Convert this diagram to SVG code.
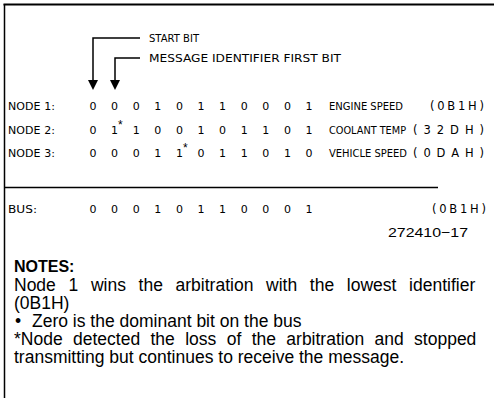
<svg xmlns="http://www.w3.org/2000/svg" width="495" height="398" viewBox="0 0 495 398">
<style>
.cad{font-family:"DejaVu Sans","Liberation Sans",sans-serif;font-size:11px;fill:#000}
.par{font-family:"DejaVu Sans","Liberation Sans",sans-serif;font-size:11.5px;fill:#000}
.bit{font-family:"DejaVu Sans","Liberation Sans",sans-serif;font-size:11px;fill:#000;text-anchor:middle}
.ast{font-family:"Liberation Sans",Arial,sans-serif;font-size:12px;fill:#000}
.note{font-family:"Liberation Sans",Arial,sans-serif;font-size:17.5px;fill:#000}
.ln{stroke:#000;stroke-width:1.5;fill:none}
</style>
<defs>
<marker id="ah" markerUnits="userSpaceOnUse" markerWidth="10" markerHeight="10" viewBox="0 0 10 10" refX="0" refY="5" orient="auto">
<path d="M0,0 L10,5 L0,10 z" fill="#000"/>
</marker>
</defs>
<rect width="495" height="398" fill="#fff"/>
<g id="frame">
<line x1="3.5" y1="4.5" x2="494" y2="4.5" stroke="#000" stroke-width="2"/>
<line x1="4.5" y1="4" x2="4.5" y2="398" stroke="#000" stroke-width="1.5"/>
</g>
<g id="connectors">
<path class="ln" d="M140,38 H93 V80" marker-end="url(#ah)"/>
<path class="ln" d="M140,58 H115 V80" marker-end="url(#ah)"/>
<line class="ln" x1="5" y1="187.5" x2="438" y2="187.5" style="stroke-width:1.3"/>
</g>
<g id="labels">
<text class="cad" x="149" y="42" textLength="50" lengthAdjust="spacingAndGlyphs">START BIT</text>
<text class="cad" x="149" y="62" textLength="192" lengthAdjust="spacingAndGlyphs">MESSAGE IDENTIFIER FIRST BIT</text>
</g>
<g id="node1">
<text class="cad" x="8" y="110" textLength="47" lengthAdjust="spacing">NODE 1:</text>
<text class="bit" x="93 114.6 136.2 157.8 179.4 201 222.6 244.2 265.8 287.4 309" y="110">00010110001</text>
<text class="cad" x="329" y="110" textLength="74" lengthAdjust="spacingAndGlyphs">ENGINE SPEED</text>
<text class="par" x="430" y="110" textLength="54" lengthAdjust="spacing">(0B1H)</text>
</g>
<g id="node2">
<text class="cad" x="8" y="134" textLength="47" lengthAdjust="spacing">NODE 2:</text>
<text class="bit" x="93 114.6 136.2 157.8 179.4 201 222.6 244.2 265.8 287.4 309" y="134">01100101101</text>
<text class="ast" x="118" y="128.5">*</text>
<text class="cad" x="329" y="134" textLength="77" lengthAdjust="spacingAndGlyphs">COOLANT TEMP</text>
<text class="par" x="413" y="134" textLength="71" lengthAdjust="spacing">(32DH)</text>
</g>
<g id="node3">
<text class="cad" x="8" y="157" textLength="47" lengthAdjust="spacing">NODE 3:</text>
<text class="bit" x="93 114.6 136.2 157.8 179.4 201 222.6 244.2 265.8 287.4 309" y="157">00011011010</text>
<text class="ast" x="183" y="151.5">*</text>
<text class="cad" x="329" y="157" textLength="78" lengthAdjust="spacingAndGlyphs">VEHICLE SPEED</text>
<text class="par" x="413" y="157" textLength="71" lengthAdjust="spacing">(0DAH)</text>
</g>
<g id="bus">
<text class="cad" x="8" y="213" textLength="29" lengthAdjust="spacingAndGlyphs">BUS:</text>
<text class="bit" x="93 114.6 136.2 157.8 179.4 201 222.6 244.2 265.8 287.4 309" y="213">00010110001</text>
<text class="par" x="432" y="213" textLength="54" lengthAdjust="spacing">(0B1H)</text>
</g>
<g id="figid">
<text x="388" y="237" style="font-family:'Liberation Sans',Arial,sans-serif;font-size:13px" textLength="80" lengthAdjust="spacingAndGlyphs">272410−17</text>
</g>
<g id="notes">
<text class="note" x="14" y="272" style="font-size:16px;font-weight:bold">NOTES:</text>
<text class="note" x="14" y="291" word-spacing="7.8">Node 1 wins the arbitration with the lowest identifier</text>
<text class="note" x="14" y="309">(0B1H)</text>
<text class="note" x="15" y="327">•</text>
<text class="note" x="32" y="327">Zero is the dominant bit on the bus</text>
<text class="note" x="14" y="345" word-spacing="5.5">*Node detected the loss of the arbitration and stopped</text>
<text class="note" x="14" y="363">transmitting but continues to receive the message.</text>
</g>
</svg>
